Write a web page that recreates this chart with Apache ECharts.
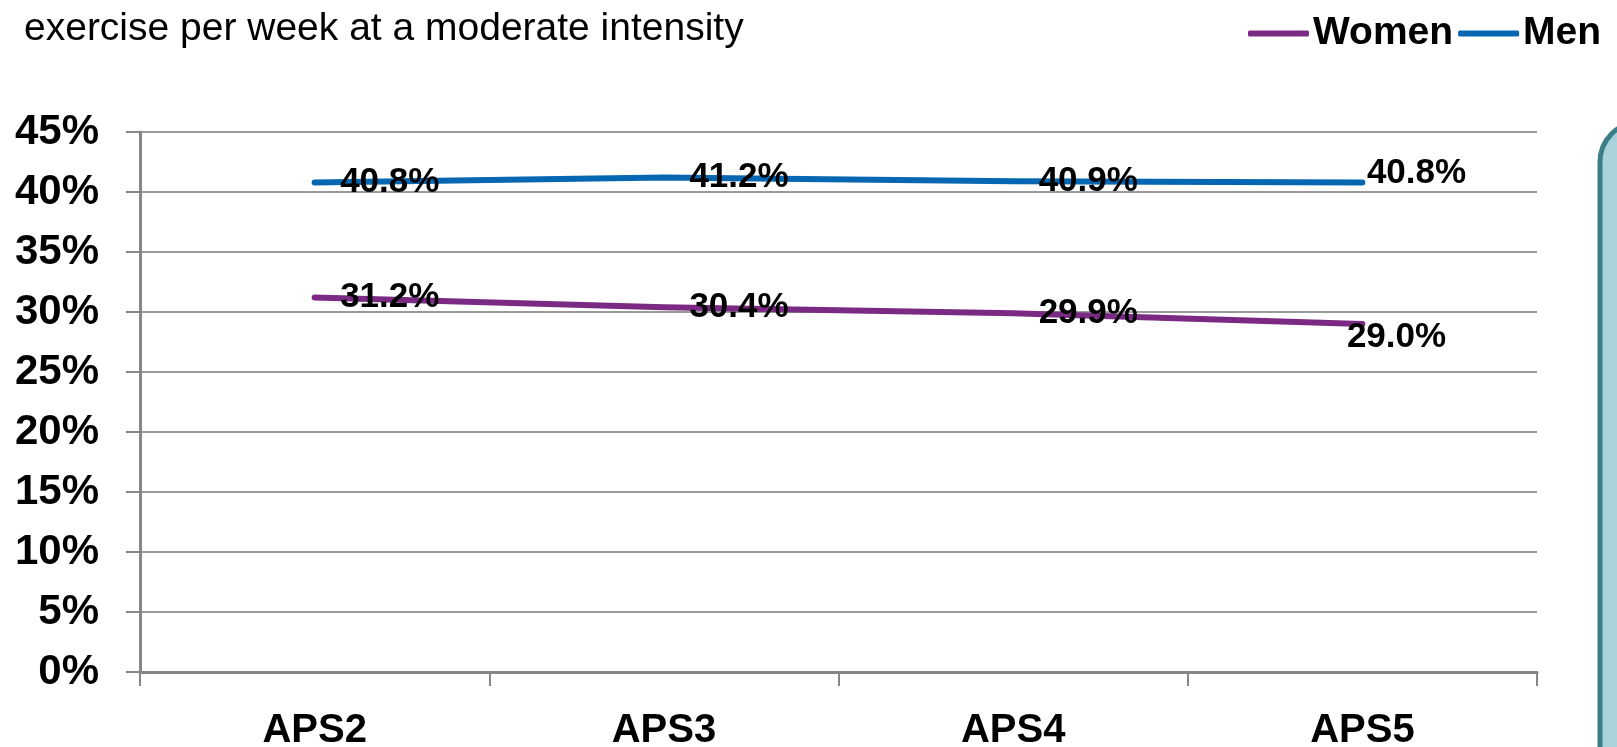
<!DOCTYPE html>
<html>
<head>
<meta charset="utf-8">
<script src="https://cdn.jsdelivr.net/npm/echarts@6/dist/echarts.min.js"></script>
<style>
html,body{margin:0;padding:0;background:#fff;}
#chart{width:1617px;height:747px;}
</style>
</head>
<body>
<div id="chart"></div>
<script>
const titleText = 'exercise per week at a moderate intensity';
const categories = ['APS2', 'APS3', 'APS4', 'APS5'];
const seriesNames = ['Women', 'Men'];
const womenValues = [31.2, 30.4, 29.9, 29.0];
const menValues = [40.8, 41.2, 40.9, 40.8];
const yMin = 0, yMax = 45, yStep = 5;

const COLORS = { Women: '#7B2A84', Men: '#0567B1' };
const FONT = '"Liberation Sans", Arial, sans-serif';

// label placement tweaks (style only), by series then point index
const labelTweaks = {
  Women: { 3: [-41, 13] },
  Men: { 3: [-21, -9] }
};

function buildData(name, values) {
  return values.map((v, i) => {
    const t = labelTweaks[name][i];
    const item = { value: v };
    if (t) item.label = { offset: t };
    return item;
  });
}

const chart = echarts.init(document.getElementById('chart'));
chart.setOption({
  animation: false,
  backgroundColor: '#ffffff',
  title: {
    text: titleText,
    left: 24, top: 10, padding: 0,
    textStyle: { fontFamily: FONT, fontSize: 39, fontWeight: 'normal', color: '#000' }
  },
  legend: {
    data: seriesNames,
    orient: 'horizontal',
    left: 1248, top: 14, width: 600, padding: 0,
    itemWidth: 61, itemHeight: 6, itemGap: 5,
    icon: 'roundRect',
    textStyle: { fontFamily: FONT, fontSize: 39, fontWeight: 'bold', color: '#000', padding: [0, 0, 0, -1] }
  },
  grid: { left: 140, right: 80, top: 132, bottom: 75, containLabel: false, outerBoundsMode: 'none' },
  xAxis: {
    type: 'category',
    data: categories,
    boundaryGap: true,
    axisLine: { lineStyle: { color: '#878787', width: 3 } },
    axisTick: { show: true, inside: false, length: 14, lineStyle: { color: '#878787', width: 2 } },
    axisLabel: { margin: 39, fontFamily: FONT, fontSize: 40, fontWeight: 'bold', color: '#000' },
    splitLine: { show: false }
  },
  yAxis: {
    type: 'value',
    min: yMin, max: yMax, interval: yStep,
    axisLine: { show: true, lineStyle: { color: '#878787', width: 3 } },
    axisTick: { show: true, inside: false, length: 14, lineStyle: { color: '#878787', width: 2 } },
    axisLabel: { margin: 41, formatter: '{value}%', fontFamily: FONT, fontSize: 42, fontWeight: 'bold', color: '#000' },
    splitLine: { show: true, lineStyle: { color: '#9a9a9a', width: 2 } }
  },
  series: [
    { name: 'Women', values: womenValues },
    { name: 'Men', values: menValues }
  ].map(s => ({
    name: s.name,
    type: 'line',
    data: buildData(s.name, s.values),
    color: COLORS[s.name],
    symbol: 'circle',
    symbolSize: 1,
    showSymbol: true,
    lineStyle: { width: 6, color: COLORS[s.name], cap: 'round', join: 'round' },
    itemStyle: { color: COLORS[s.name] },
    label: {
      show: true,
      position: 'right',
      distance: 25,
      formatter: p => p.value.toFixed(1) + '%',
      fontFamily: FONT, fontSize: 35, fontWeight: 'bold', color: '#000'
    },
    emphasis: { disabled: true }
  })),
  graphic: [
    {
      type: 'rect',
      shape: { x: 1600, y: 122, width: 120, height: 700, r: 40 },
      style: { fill: '#A8D3DB', stroke: '#3B7E87', lineWidth: 5 },
      z: 10
    }
  ]
});
</script>
</body>
</html>
